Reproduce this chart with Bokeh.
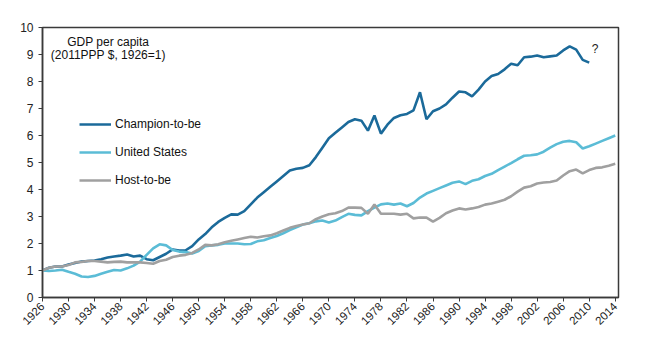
import math
from bokeh.plotting import figure
from bokeh.models import ColumnDataSource, FixedTicker, Legend, LegendItem, Label, Range1d
from bokeh.embed import file_html
from bokeh.resources import INLINE

years = list(range(1926, 2015))
champion_years = list(range(1926, 2011))

champion = [
    1.00, 1.10, 1.15, 1.15, 1.22, 1.28, 1.33, 1.35, 1.37, 1.42,   # 1926-1935
    1.48, 1.52, 1.55, 1.59, 1.52, 1.55, 1.42, 1.38, 1.50, 1.62,   # 1936-1945
    1.78, 1.74, 1.75, 1.90, 2.15, 2.35, 2.60, 2.80, 2.95, 3.08,   # 1946-1955
    3.07, 3.20, 3.45, 3.70, 3.90, 4.10, 4.30, 4.50, 4.70, 4.77,   # 1956-1965
    4.80, 4.90, 5.20, 5.55, 5.90, 6.10, 6.30, 6.50, 6.60, 6.55,   # 1966-1975
    6.18, 6.74, 6.07, 6.40, 6.65, 6.75, 6.80, 6.93, 7.60, 6.60,   # 1976-1985
    6.90, 7.00, 7.15, 7.40, 7.63, 7.60, 7.45, 7.70, 8.00, 8.20,   # 1986-1995
    8.28, 8.45, 8.66, 8.60, 8.90, 8.92, 8.96, 8.90, 8.93, 8.96,   # 1996-2005
    9.15, 9.30, 9.18, 8.80, 8.70,                                 # 2006-2010
]

united_states = [
    1.00, 0.98, 1.00, 1.03, 0.95, 0.88, 0.78, 0.76, 0.80, 0.88,   # 1926-1935
    0.95, 1.02, 1.00, 1.08, 1.18, 1.33, 1.58, 1.82, 1.97, 1.93,   # 1936-1945
    1.76, 1.70, 1.68, 1.63, 1.72, 1.90, 1.93, 1.95, 2.00, 2.00,   # 1946-1955
    2.00, 1.97, 1.98, 2.08, 2.12, 2.20, 2.28, 2.38, 2.50, 2.60,   # 1956-1965
    2.70, 2.75, 2.82, 2.85, 2.78, 2.85, 2.98, 3.10, 3.06, 3.04,   # 1966-1975
    3.20, 3.33, 3.45, 3.48, 3.44, 3.48, 3.38, 3.50, 3.70, 3.85,   # 1976-1985
    3.95, 4.05, 4.15, 4.25, 4.30, 4.20, 4.32, 4.38, 4.50, 4.58,   # 1986-1995
    4.72, 4.85, 4.98, 5.12, 5.25, 5.27, 5.30, 5.40, 5.55, 5.68,   # 1996-2005
    5.77, 5.80, 5.75, 5.52, 5.60, 5.70, 5.80, 5.90, 6.00,         # 2006-2014
]

host = [
    1.00, 1.10, 1.15, 1.15, 1.20, 1.30, 1.32, 1.35, 1.35, 1.33,   # 1926-1935
    1.30, 1.32, 1.33, 1.30, 1.30, 1.30, 1.28, 1.25, 1.35, 1.40,   # 1936-1945
    1.50, 1.55, 1.58, 1.65, 1.78, 1.95, 1.93, 1.97, 2.05, 2.10,   # 1946-1955
    2.15, 2.20, 2.25, 2.22, 2.27, 2.30, 2.38, 2.48, 2.58, 2.65,   # 1956-1965
    2.70, 2.75, 2.90, 3.00, 3.08, 3.12, 3.20, 3.33, 3.33, 3.32,   # 1966-1975
    3.10, 3.44, 3.10, 3.10, 3.10, 3.07, 3.10, 2.93, 2.96, 2.96,   # 1976-1985
    2.81, 2.95, 3.12, 3.22, 3.30, 3.26, 3.30, 3.35, 3.44, 3.48,   # 1986-1995
    3.55, 3.62, 3.75, 3.92, 4.07, 4.12, 4.22, 4.26, 4.28, 4.33,   # 1996-2005
    4.52, 4.68, 4.74, 4.60, 4.72, 4.80, 4.82, 4.88, 4.95,         # 2006-2014
]

series_names = ["Champion-to-be", "United States", "Host-to-be"]
x_ticks = list(range(1926, 2015, 4))
y_ticks = list(range(0, 11))

FONT = "Liberation Sans"
c_champ = "#1b6a9a"
c_us = "#5bbcd6"
c_host = "#a0a0a0"

p = figure(width=645, height=346, output_backend="svg", toolbar_location=None,
           x_range=Range1d(1926, 2014.5), y_range=Range1d(0, 10),
           min_border_left=42, min_border_right=27, min_border_top=27, min_border_bottom=49)
p.background_fill_color = "white"
p.border_fill_color = "white"
p.xgrid.visible = False
p.ygrid.visible = False
p.outline_line_color = "#3a3a3a"
p.outline_line_width = 1.5

src_c = ColumnDataSource(dict(x=champion_years, y=champion))
src_u = ColumnDataSource(dict(x=years, y=united_states))
src_h = ColumnDataSource(dict(x=years, y=host))

r1 = p.line("x", "y", source=src_c, line_color=c_champ, line_width=2.6)
r2 = p.line("x", "y", source=src_u, line_color=c_us, line_width=2.6)
r3 = p.line("x", "y", source=src_h, line_color=c_host, line_width=2.6)

for ax in (p.xaxis[0], p.yaxis[0]):
    ax.axis_line_color = "#3a3a3a"
    ax.axis_line_width = 1.5
    ax.major_tick_line_color = "#3a3a3a"
    ax.major_tick_in = 0
    ax.major_tick_out = 4
    ax.minor_tick_line_color = None
    ax.major_label_text_font = FONT
    ax.major_label_text_color = "#222222"

p.xaxis.ticker = FixedTicker(ticks=x_ticks)
p.xaxis.major_label_orientation = math.pi / 4
p.xaxis.major_label_text_font_size = "11.5px"
p.xaxis.major_label_standoff = 3
p.yaxis.ticker = FixedTicker(ticks=y_ticks)
p.yaxis.major_label_text_font_size = "12px"
p.yaxis.major_label_standoff = 5

legend = Legend(items=[LegendItem(label=series_names[0], renderers=[r1]),
                       LegendItem(label=series_names[1], renderers=[r2]),
                       LegendItem(label=series_names[2], renderers=[r3])],
                location=(37, 107), orientation="vertical",
                glyph_width=32, glyph_height=20, label_height=20, spacing=8,
                label_standoff=4, padding=0, margin=0,
                border_line_color=None, background_fill_alpha=0,
                label_text_font=FONT, label_text_font_size="12px",
                label_text_color="#111111")
p.add_layout(legend, "center")

# annotation texts placed in data coordinates
p.add_layout(Label(x=1936.1, y=9.48, text="GDP per capita", text_font=FONT,
                   text_font_size="12px", text_align="center", text_baseline="middle",
                   text_color="#111111"))
p.add_layout(Label(x=1936.1, y=9.0, text="(2011PPP $, 1926=1)", text_font=FONT,
                   text_font_size="12px", text_align="center", text_baseline="middle",
                   text_color="#111111"))
p.add_layout(Label(x=2010.9, y=9.22, text="?", text_font=FONT,
                   text_font_size="12px", text_align="center", text_baseline="middle",
                   text_color="#222222"))

open("out.html", "w").write(file_html(p, INLINE))
